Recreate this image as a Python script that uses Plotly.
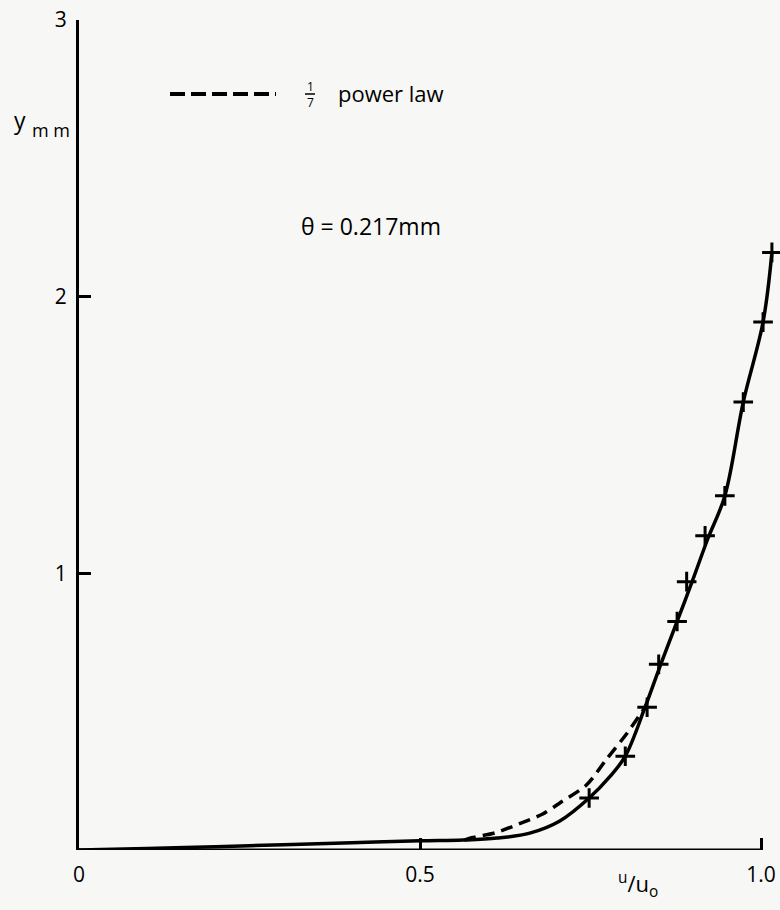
import plotly.graph_objects as go

# measured velocity profile (+ markers)
u_meas = [1.016, 1.003, 0.974, 0.947, 0.918, 0.891, 0.877, 0.850, 0.833, 0.801, 0.748]
y_meas = [2.160, 1.908, 1.619, 1.280, 1.136, 0.970, 0.826, 0.671, 0.516, 0.339, 0.188]

# faired solid curve through the measurements down to the wall
u_curve = [1.016, 1.003, 0.974, 0.947, 0.922, 0.899, 0.877, 0.853, 0.830, 0.801, 0.779, 0.748,
           0.705, 0.661, 0.613, 0.563, 0.50, 0.40, 0.30, 0.20, 0.10, 0.0]
y_curve = [2.160, 1.908, 1.619, 1.280, 1.125, 0.970, 0.826, 0.671, 0.516, 0.339, 0.267, 0.188,
           0.105, 0.061, 0.043, 0.036, 0.033, 0.026, 0.019, 0.012, 0.005, 0.0]

# 1/7 power law (dashed) where it departs from the measured curve
u_pow = [0.565, 0.577, 0.61, 0.646, 0.68, 0.705, 0.744, 0.774, 0.803, 0.830]
y_pow = [0.036, 0.045, 0.062, 0.095, 0.13, 0.17, 0.235, 0.33, 0.42, 0.516]

x_ticks = [0, 0.5, 1.0]
x_ticklabels = ["0", "0.5", "1.0"]
y_ticks = [1, 2, 3]
y_ticklabels = ["1", "2", "3"]
x_axis_end = 1.0

FONT = "Open Sans"
BG = "#f7f7f5"
L, R, T, B = 79, 0, 20, 60
PW, PH = 780 - L - R, 910 - T - B
X_MAX = PW / (761 - L)  # so that u/u0 = 1.0 sits at the right-hand axis tick


def px(x):
    return (x - L) / PW


def py(y):
    return (910 - B - y) / PH


fig = go.Figure()
fig.add_trace(go.Scatter(x=u_pow, y=y_pow, mode="lines",
                         line=dict(color="black", width=3.5, dash="12px,7px",
                                   shape="spline", smoothing=0.8),
                         cliponaxis=False, showlegend=False))
fig.add_trace(go.Scatter(x=u_curve, y=y_curve, mode="lines",
                         line=dict(color="black", width=3.5, shape="spline", smoothing=1.0),
                         cliponaxis=False, showlegend=False))
fig.add_trace(go.Scatter(x=u_meas, y=y_meas, mode="markers",
                         marker=dict(symbol="cross-thin", size=14,
                                     line=dict(color="black", width=3)),
                         cliponaxis=False, showlegend=False))

fig.update_layout(
    width=780, height=910,
    margin=dict(l=L, r=R, t=T, b=B),
    paper_bgcolor=BG, plot_bgcolor=BG,
    font=dict(family=FONT, color="black", size=21),
    xaxis=dict(range=[0, X_MAX], showgrid=False, zeroline=False,
               showline=False,
               ticks="inside", ticklen=12, tickwidth=2.5, tickcolor="black",
               tickvals=x_ticks, ticktext=x_ticklabels, ticklabelstandoff=10,
               tickfont=dict(size=21)),
    yaxis=dict(range=[0, 3.0], showgrid=False, zeroline=False,
               showline=True, linecolor="black", linewidth=3,
               ticks="inside", ticklen=12, tickwidth=2.5, tickcolor="black",
               tickvals=y_ticks, ticktext=y_ticklabels, ticklabelstandoff=5,
               tickfont=dict(size=21)),
)

# x axis line, ending at u/u0 = 1.0
fig.add_shape(type="line", xref="x", yref="y", x0=0, x1=x_axis_end, y0=0, y1=0,
              line=dict(color="black", width=3), layer="above")

LEG_Y = 94
# legend key: dashed sample
fig.add_shape(type="line", xref="paper", yref="paper",
              x0=px(170), x1=px(276), y0=py(LEG_Y), y1=py(LEG_Y),
              line=dict(color="black", width=4, dash="15px,6px"))
# fraction 1/7
fig.add_annotation(xref="paper", yref="paper", x=px(310), y=py(LEG_Y - 8),
                   xanchor="center", yanchor="middle",
                   text="1", showarrow=False, font=dict(size=12))
fig.add_shape(type="line", xref="paper", yref="paper",
              x0=px(305), x1=px(315), y0=py(LEG_Y), y1=py(LEG_Y),
              line=dict(color="black", width=1.5))
fig.add_annotation(xref="paper", yref="paper", x=px(310), y=py(LEG_Y + 9),
                   xanchor="center", yanchor="middle",
                   text="7", showarrow=False, font=dict(size=12))
fig.add_annotation(xref="paper", yref="paper", x=px(336), y=py(LEG_Y - 1),
                   xanchor="left", yanchor="middle",
                   text="power law", showarrow=False, font=dict(size=22))
fig.add_annotation(xref="paper", yref="paper", x=px(299), y=py(226),
                   xanchor="left", yanchor="middle",
                   text="θ = 0.217mm", showarrow=False, font=dict(size=23))
fig.add_annotation(xref="paper", yref="paper", x=px(12), y=py(120),
                   xanchor="left", yanchor="middle",
                   text="y", showarrow=False, font=dict(size=23))
fig.add_annotation(xref="paper", yref="paper", x=px(30), y=py(130),
                   xanchor="left", yanchor="middle",
                   text="m m", showarrow=False, font=dict(size=18))
fig.add_annotation(xref="paper", yref="paper", x=px(638), y=py(884),
                   xanchor="center", yanchor="middle",
                   text="<sup>u</sup>/u<sub>o</sub>", showarrow=False, font=dict(size=22))

fig.write_html("out.html")
